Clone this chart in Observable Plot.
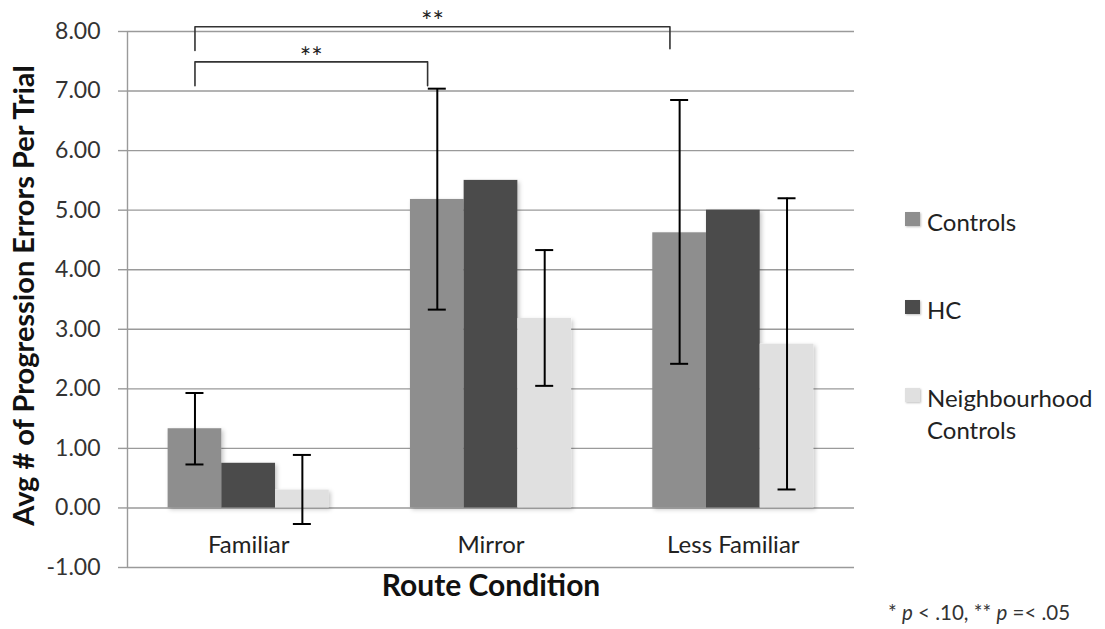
<!DOCTYPE html>
<html>
<head>
<meta charset="utf-8">
<script src="https://cdn.jsdelivr.net/npm/d3@7"></script>
<script src="https://cdn.jsdelivr.net/npm/@observablehq/plot@0.6"></script>
<style>
  body { margin: 0; background: #fff; font-family: Lato, "Open Sans", sans-serif; }
  #wrap { position: relative; width: 1105px; height: 629px; }
  .leg { position: absolute; left: 905px; font-size: 24px; color: #222; line-height: 32px; }
  .leg .sw { position: absolute; left: 0; width: 15px; height: 14px; box-shadow: 1px 1px 2px rgba(0,0,0,0.25); }
  .leg .lb { position: absolute; left: 22px; white-space: nowrap; }
  #note { position: absolute; left: 888px; top: 600px; font-size: 20.5px; line-height: 24px; color: #333; white-space: nowrap; }
</style>
</head>
<body>
<div id="wrap"></div>
<script>
// ---- data ----
const conditions = ["Familiar", "Mirror", "Less Familiar"];
const groups = ["Controls", "HC", "Neighbourhood Controls"];
const controlsMean = [1.33, 5.18, 4.62];
const hcMean = [0.75, 5.50, 5.00];
const neighbourhoodMean = [0.30, 3.18, 2.75];
const controlsErrLow = [0.73, 3.33, 2.42];
const controlsErrHigh = [1.93, 7.04, 6.85];
const neighbourhoodErrLow = [-0.27, 2.05, 0.31];
const neighbourhoodErrHigh = [0.89, 4.33, 5.20];
const yTicks = [-1, 0, 1, 2, 3, 4, 5, 6, 7, 8];
// significance brackets
const bracketFrom = ["Familiar", "Familiar"];
const bracketTo = ["Mirror", "Less Familiar"];
const bracketTop = [7.49, 8.08];
const bracketLegFrom = [7.09, 7.68];
const bracketLegTo = [7.09, 7.71];
const bracketLabel = ["**", "**"];
const groupColors = ["#8e8e8e", "#4b4b4b", "#e0e0e0"];

// ---- layout in category units (each category occupies one unit) ----
const barW = 0.2216;
const xc = (ci, gi) => ci + 0.5 + (gi - 1) * barW;

const means = [controlsMean, hcMean, neighbourhoodMean];
const bars = [];
conditions.forEach((c, ci) => groups.forEach((g, gi) => {
  bars.push({condition: c, group: g, value: means[gi][ci], x1: xc(ci, gi) - barW / 2, x2: xc(ci, gi) + barW / 2});
}));
const errs = [];
conditions.forEach((c, ci) => {
  errs.push({condition: c, group: "Controls", x: xc(ci, 0), lo: controlsErrLow[ci], hi: controlsErrHigh[ci]});
  errs.push({condition: c, group: "Neighbourhood Controls", x: xc(ci, 2), lo: neighbourhoodErrLow[ci], hi: neighbourhoodErrHigh[ci]});
});
const bracketPts = [];
const bracketTexts = [];
bracketFrom.forEach((f, k) => {
  const xa = xc(conditions.indexOf(f), 0);
  const xb = xc(conditions.indexOf(bracketTo[k]), 0) - 0.04;
  bracketPts.push({k, x: xa, y: bracketLegFrom[k]}, {k, x: xa, y: bracketTop[k]}, {k, x: xb, y: bracketTop[k]}, {k, x: xb, y: bracketLegTo[k]});
  bracketTexts.push({x: (xa + xb) / 2, y: bracketTop[k], text: bracketLabel[k]});
});

const chart = Plot.plot({
  width: 1105,
  height: 629,
  marginLeft: 127,
  marginRight: 251,
  marginTop: 31,
  marginBottom: 62,
  style: {fontFamily: "Lato, 'Open Sans', sans-serif", background: "#fff"},
  x: {domain: [0, conditions.length], axis: null},
  y: {domain: [-1, 8], axis: null},
  color: {domain: groups, range: groupColors},
  marks: [
    Plot.ruleY(yTicks, {stroke: "#9a9a9a", strokeWidth: 1.4}),
    Plot.axisY({ticks: yTicks, tickSize: 9, tickPadding: 18, tickFormat: d => d.toFixed(2), label: null, fontSize: 23, stroke: "#9a9a9a", strokeWidth: 1.4, fill: "#333"}),
    Plot.ruleX([0], {y1: -1, y2: 8, stroke: "#9a9a9a", strokeWidth: 1.4}),
    Plot.rect(bars, {x1: "x1", x2: "x2", y1: 0, y2: "value", fill: "group"}),
    Plot.ruleX(errs, {x: "x", y1: "lo", y2: "hi", stroke: "#000", strokeWidth: 2}),
    Plot.ruleY(errs, {x1: "x", x2: "x", y: "lo", insetLeft: -9, insetRight: -9, stroke: "#000", strokeWidth: 2}),
    Plot.ruleY(errs, {x1: "x", x2: "x", y: "hi", insetLeft: -9, insetRight: -9, stroke: "#000", strokeWidth: 2}),
    Plot.line(bracketPts, {x: "x", y: "y", z: "k", stroke: "#333", strokeWidth: 1.6, curve: "linear"}),
    Plot.text(bracketTexts, {x: "x", y: "y", text: "text", dy: -4, fontSize: 27, letterSpacing: "2px", fill: "#222"}),
    Plot.text(conditions, {x: (d, i) => i + 0.5, y: () => 0, text: d => d, dy: 37, fontSize: 24, fill: "#222"}),
    Plot.text(["Avg # of Progression Errors Per Trial"], {frameAnchor: "left", textAnchor: "middle", rotate: -90, dx: -103, dy: -4, text: d => d, fontSize: 29, letterSpacing: "0.8px", fontWeight: "bold", fill: "#111"}),
    Plot.text(["Route Condition"], {frameAnchor: "bottom", dy: 28, text: d => d, fontSize: 30, fontWeight: "bold", fill: "#111"})
  ]
});

// subtle drop shadow on bars, as in the reference
const svg = d3.select(chart);
const f = svg.insert("defs", ":first-child").append("filter").attr("id", "barShadow").attr("x", "-20%").attr("y", "-20%").attr("width", "150%").attr("height", "150%");
f.append("feDropShadow").attr("dx", 2).attr("dy", 2).attr("stdDeviation", 2).attr("flood-color", "#000").attr("flood-opacity", 0.22);
svg.selectAll("g[aria-label='rect']").attr("filter", "url(#barShadow)");

const wrap = document.getElementById("wrap");
wrap.appendChild(chart);

// legend
const legendTops = [206, 294, 382];
const legendLabels = ["Controls", "HC", "Neighbourhood<br>Controls"];
groups.forEach((g, i) => {
  const d = document.createElement("div");
  d.className = "leg";
  d.style.top = legendTops[i] + "px";
  d.innerHTML = `<div class="sw" style="top:6px;background:${groupColors[i]}"></div><div class="lb">${legendLabels[i]}</div>`;
  wrap.appendChild(d);
});
const note = document.createElement("div");
note.id = "note";
note.innerHTML = "* <i>p</i> &lt; .10, ** <i>p</i> =&lt; .05";
wrap.appendChild(note);
</script>
</body>
</html>
